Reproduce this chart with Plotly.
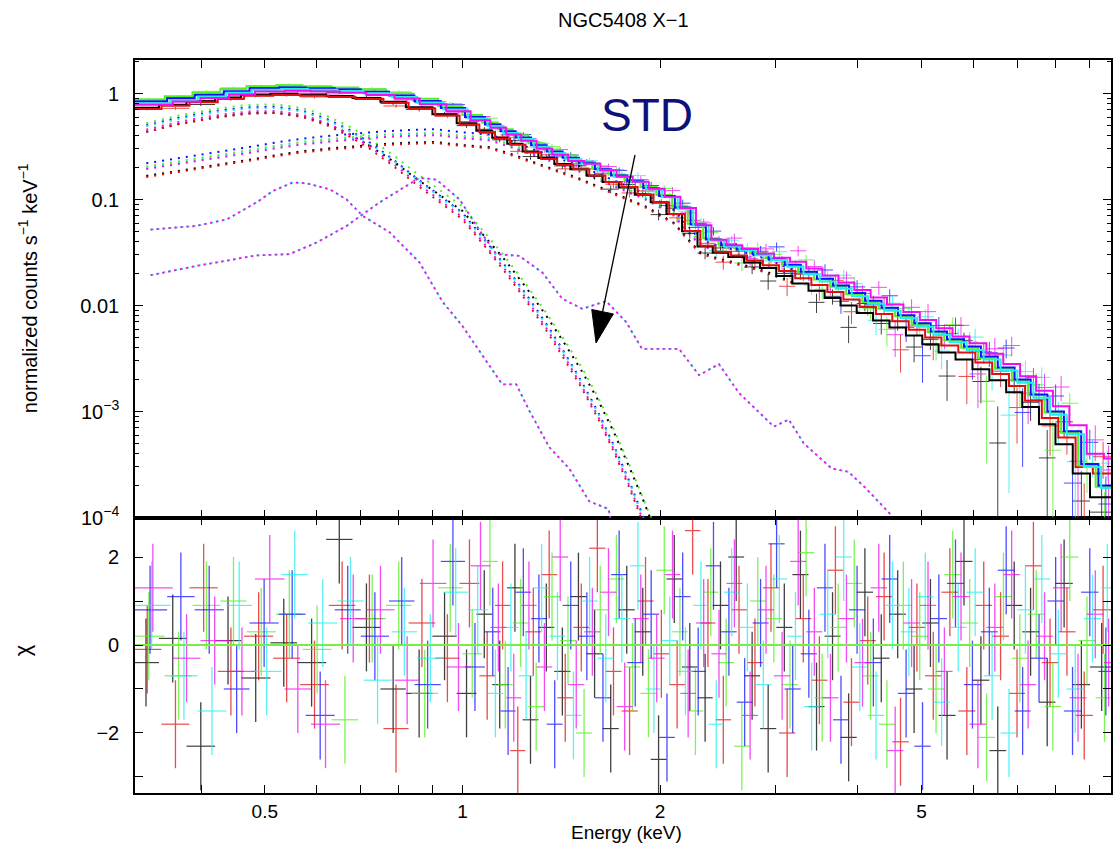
import numpy as np
import plotly.graph_objects as go

# ---------------- data ----------------
SPECTRA = ["black", "red", "green", "blue", "cyan", "magenta"]
COLORS = {"black": "#000000", "red": "#e01010", "green": "#55ee22",
          "blue": "#1010ff", "cyan": "#22eeee", "magenta": "#ee10ee"}

# energy bin edges (keV) of each spectrum
EDGES_BLACK = [0.315, 0.345, 0.38, 0.42, 0.46, 0.51, 0.56, 0.62, 0.68, 0.75, 0.82, 0.90, 0.98,
               1.05, 1.11, 1.17, 1.235, 1.305, 1.38, 1.46, 1.545, 1.635, 1.73, 1.83, 1.935, 2.045,
               2.16, 2.28, 2.405, 2.54, 2.685, 2.84, 3.005, 3.18, 3.365, 3.56, 3.765, 3.985, 4.22, 4.47, 4.735, 5.015,
               5.31, 5.635, 5.98, 6.345, 6.73, 7.12, 7.55, 8.0, 8.5, 9.03, 9.8]
EDGES_RED = [0.315, 0.348, 0.384, 0.424, 0.465, 0.515, 0.566, 0.626, 0.687, 0.758, 0.828, 0.909, 0.990,
             1.061, 1.121, 1.182, 1.247, 1.318, 1.394, 1.475, 1.560, 1.651, 1.747, 1.848, 1.954, 2.065,
             2.182, 2.303, 2.429, 2.565, 2.712, 2.868, 3.035, 3.212, 3.399, 3.596, 3.803, 4.025, 4.262, 4.515, 4.782, 5.065,
             5.363, 5.691, 6.040, 6.408, 6.797, 7.191, 7.626, 8.08, 8.585, 9.12, 9.8]
EDGES_GREEN = [0.315, 0.352, 0.388, 0.428, 0.469, 0.520, 0.571, 0.632, 0.694, 0.765, 0.836, 0.918, 1.000,
               1.071, 1.132, 1.193, 1.260, 1.331, 1.408, 1.489, 1.576, 1.668, 1.765, 1.867, 1.974, 2.086,
               2.203, 2.326, 2.453, 2.591, 2.739, 2.897, 3.065, 3.244, 3.432, 3.631, 3.840, 4.065, 4.304, 4.559, 4.830, 5.115,
               5.416, 5.748, 6.100, 6.472, 6.865, 7.262, 7.701, 8.16, 8.67, 9.21, 9.8]
EDGES_BLUE = [0.315, 0.355, 0.391, 0.433, 0.474, 0.525, 0.577, 0.639, 0.700, 0.773, 0.845, 0.927, 1.009,
              1.082, 1.143, 1.205, 1.272, 1.344, 1.421, 1.504, 1.591, 1.684, 1.782, 1.885, 1.993, 2.106,
              2.225, 2.348, 2.477, 2.616, 2.766, 2.925, 3.095, 3.275, 3.466, 3.667, 3.878, 4.105, 4.347, 4.604, 4.877, 5.165,
              5.469, 5.804, 6.159, 6.535, 6.932, 7.334, 7.777, 8.24, 8.755, 9.30, 9.8]
EDGES_CYAN = [0.315, 0.359, 0.395, 0.437, 0.478, 0.530, 0.582, 0.645, 0.707, 0.780, 0.853, 0.936, 1.019,
              1.092, 1.154, 1.217, 1.284, 1.357, 1.435, 1.518, 1.607, 1.700, 1.799, 1.903, 2.012, 2.127,
              2.246, 2.371, 2.501, 2.642, 2.792, 2.954, 3.125, 3.307, 3.500, 3.702, 3.916, 4.144, 4.389, 4.649, 4.924, 5.216,
              5.522, 5.860, 6.219, 6.599, 7.0, 7.405, 7.852, 8.32, 8.84, 9.39, 9.8]
EDGES_MAGENTA = [0.315, 0.362, 0.399, 0.441, 0.483, 0.536, 0.588, 0.651, 0.714, 0.788, 0.861, 0.945, 1.029,
                 1.103, 1.166, 1.229, 1.297, 1.370, 1.449, 1.533, 1.622, 1.717, 1.817, 1.922, 2.032, 2.147,
                 2.268, 2.394, 2.525, 2.667, 2.819, 2.982, 3.155, 3.339, 3.533, 3.738, 3.953, 4.184, 4.431, 4.693, 4.972, 5.266,
                 5.576, 5.917, 6.279, 6.662, 7.067, 7.476, 7.928, 8.40, 8.925, 9.48, 9.8]

# folded total model per bin (normalized counts s^-1 keV^-1)
MODEL_BLACK = [0.732, 0.784, 0.845, 0.915, 0.976, 0.993, 0.976, 0.949, 0.906, 0.836, 0.74, 0.636, 0.523, 0.444,
               0.383, 0.335, 0.283, 0.246, 0.216,
               0.193, 0.168, 0.146, 0.13, 0.111, 0.094, 0.073, 0.0502, 0.036, 0.0315, 0.0286, 0.0254, 0.0226,
               0.0190, 0.0161, 0.0138, 0.0118, 0.0100, 0.0085, 0.0072, 0.0062, 0.0052, 0.0043, 0.0036, 0.0031,
               0.0025, 0.00197, 0.00152, 0.0011, 0.00076, 0.00049, 0.00026, 0.000155]
MODEL_RED = [0.715, 0.766, 0.825, 0.894, 0.953, 0.97, 0.953, 0.928, 0.885, 0.817, 0.723, 0.621, 0.511, 0.434,
             0.374, 0.328, 0.277, 0.241, 0.211,
             0.193, 0.168, 0.146, 0.131, 0.111, 0.094, 0.073, 0.0505, 0.0366, 0.0322, 0.0296, 0.0266, 0.024,
             0.0211, 0.0181, 0.0156, 0.0134, 0.0114, 0.0097, 0.0083, 0.0071, 0.0059, 0.005, 0.0042, 0.0036,
             0.0029, 0.00226, 0.00174, 0.00126, 0.00087, 0.00057, 0.00030, 0.00026]
MODEL_GREEN = [0.88, 0.94, 1.02, 1.10, 1.17, 1.19, 1.17, 1.14, 1.09, 1.005, 0.89, 0.764, 0.628, 0.534,
               0.46, 0.403, 0.34, 0.296, 0.26,
               0.227, 0.197, 0.172, 0.153, 0.131, 0.110, 0.086, 0.059, 0.043, 0.0379, 0.0348, 0.0312, 0.0281,
               0.0242, 0.0205, 0.0176, 0.015, 0.0128, 0.0108, 0.0093, 0.0079, 0.0066, 0.0056, 0.0047, 0.004,
               0.0032, 0.00254, 0.00195, 0.00142, 0.00098, 0.00063, 0.00031, 0.000195]
MODEL_BLUE = [0.84, 0.90, 0.97, 1.05, 1.12, 1.14, 1.12, 1.09, 1.04, 0.96, 0.85, 0.73,
              0.60, 0.51, 0.44, 0.385, 0.325, 0.283, 0.248, 0.222, 0.193, 0.168, 0.150, 0.128, 0.108,
              0.084, 0.058, 0.042, 0.037, 0.034, 0.0305, 0.0275, 0.0242, 0.0208, 0.0179, 0.0154, 0.0131,
              0.0111, 0.0095, 0.0081, 0.0068,
              0.0057, 0.0048, 0.0041, 0.0033, 0.0026, 0.0020, 0.00145, 0.0010, 0.00065, 0.00032, 0.00020]
MODEL_CYAN = [0.811, 0.869, 0.937, 1.014, 1.082, 1.101, 1.082, 1.053, 1.005, 0.927, 0.821, 0.705, 0.58, 0.493,
              0.425, 0.372, 0.314, 0.273, 0.24,
              0.217, 0.189, 0.164, 0.147, 0.125, 0.1055, 0.082, 0.0567, 0.041, 0.0361, 0.0332, 0.0298, 0.0269,
              0.0232, 0.0197, 0.0168, 0.0144, 0.0122, 0.0104, 0.0089, 0.0076, 0.0063, 0.0053, 0.0045, 0.0038,
              0.0031, 0.00243, 0.00187, 0.00135, 0.00093, 0.00061, 0.00030, 0.00019]
MODEL_MAGENTA = [0.784, 0.84, 0.905, 0.98, 1.045, 1.064, 1.045, 1.017, 0.97, 0.896, 0.793, 0.681, 0.56, 0.476,
                 0.41, 0.359, 0.303, 0.264, 0.231,
                 0.217, 0.189, 0.164, 0.147, 0.126, 0.106, 0.083, 0.0573, 0.0417, 0.037, 0.0342, 0.031, 0.0282,
                 0.0259, 0.0223, 0.0192, 0.0165, 0.014, 0.0119, 0.0102, 0.0087, 0.0073, 0.0061, 0.0051, 0.0044,
                 0.0035, 0.0028, 0.00215, 0.00157, 0.00112, 0.00074, 0.00040, 0.00036]

# residuals (chi) per bin
RESID_BLACK = [-0.4, 0.15, -2.3, 0.1, -0.75, 0.05, -0.4, 2.4, 0.4, -1.0, -1.1, 0.2,
               -1.1, 0.7, -0.9, 1.3, -1.7, 0.4, -0.6, 1.1, -0.2, -1.9, 0.8, 0.3, -2.6,
               1.5, -0.5, -1.2, 0.9, 2.0, -0.7, -1.9, 0.4, 1.6, -1.4, 0.2, -2.1, 1.2, -0.3, 0.7, -1.0,
               0.5, -1.6, 1.9, -0.8, -2.4, 0.9, 0.3, -1.3, 1.4, -0.9, -0.5]
RESID_RED = [-0.1, -1.8, 1.3, -0.6, 0.2, -0.3, -0.9, 0.9, 0.6, -1.9, 0.5, -0.3,
             1.4, -0.7, 0.9, -2.4, 0.3, 1.6, -1.2, 0.4, 2.2, -0.6, -1.5, 1.0, -0.2,
             -0.9, 2.6, 0.5, -1.7, 0.8, -0.4, 1.3, -2.0, 0.6, -0.8, 1.7, -1.3, 0.1, 1.1, -2.2, 0.4,
             -0.7, 1.2, -1.5, 0.9, 0.2, -1.1, 1.8, -0.4, 0.3, -1.6, 0.8]
RESID_GREEN = [0.2, -0.7, 0.9, 1.0, 0.3, 0.7, -0.1, -1.7, 0.6, 0.9, -1.1, 1.3,
               -0.2, 1.9, -0.9, 0.5, -1.4, 1.1, 0.1, -2.0, 0.8, 1.5, -0.5, -1.1, 1.7,
               0.3, -1.5, 1.2, -0.4, -2.3, 1.0, 0.6, -0.9, 2.1, -1.2, 0.4, 1.4, -0.7, -1.8, 0.9, 0.2,
               -1.0, 1.6, 0.5, -2.1, 1.1, -0.3, 0.7, -1.4, 2.0, 0.1, -1.2]
RESID_BLUE = [0.8, 1.1, 0.8, -1.0, 0.5, 0.7, -1.6, 0.8, 0.2, 1.0, -0.9, 1.9,
              -0.5, 0.3, -1.5, 1.2, 0.6, -1.8, 0.9, 0.2, -1.2, 1.6, -0.4, 0.7, -2.1,
              1.1, -0.6, 1.8, 0.3, -1.3, 0.5, 2.3, -1.0, -0.2, 1.3, -1.7, 0.8, -0.4, 1.5, -1.1, -2.3,
              0.6, 1.4, -0.9, 0.3, 1.7, -1.5, -0.3, 1.0, -1.5, 1.2, -0.6]
RESID_CYAN = [0.9, -0.7, -1.5, 0.9, -0.6, 1.6, 0.5, 1.0, -0.8, 0.3, -0.3, 1.2,
              0.8, -1.1, 0.4, -0.7, 1.3, 0.2, -1.6, 1.0, -0.3, 0.6, 1.8, -1.0, 0.1,
              -0.6, 0.9, -1.8, 1.2, 0.4, -0.9, 1.5, 0.2, -1.4, 0.7, 2.0, -0.5, -1.6, 0.9, 0.3, 1.1,
              -1.3, 0.4, 1.2, -0.7, -2.0, 0.8, 1.5, -0.2, -1.0, 0.6, 1.3]
RESID_MAGENTA = [1.3, -0.3, 0.1, -0.6, 1.5, -1.0, -1.8, 0.6, 0.8, -0.8, 1.4, -0.5,
                 1.8, 0.4, -1.2, 0.9, -0.5, 2.0, -0.9, 0.3, 1.2, -1.4, 0.6, -0.3, 1.6,
                 -1.1, 0.5, -0.2, 1.4, -1.6, 0.8, -0.7, 1.9, 0.3, -1.2, 0.6, -0.4, 1.3, -2.4, 0.5, 0.9,
                 -0.6, 1.1, -1.8, 0.4, 1.6, -0.9, 0.2, 1.3, -1.2, 0.7, -0.4]

# relative 1-sigma error of each bin (same grouping for all spectra)
REL_ERR = [0.03, 0.03, 0.03, 0.03, 0.03, 0.03, 0.03, 0.03, 0.035, 0.035, 0.04, 0.04,
           0.045, 0.05, 0.05, 0.055, 0.06, 0.06, 0.065, 0.07, 0.07, 0.075, 0.08, 0.085, 0.09,
           0.09, 0.10, 0.11, 0.12, 0.12, 0.13, 0.13, 0.14, 0.15, 0.16, 0.17, 0.18, 0.19, 0.20, 0.21, 0.22,
           0.23, 0.25, 0.27, 0.29, 0.31, 0.34, 0.37, 0.40, 0.45, 0.50, 0.55]

# model components (dotted)
DISK_E = [0.33, 0.37, 0.42, 0.47, 0.52, 0.57, 0.62, 0.67, 0.72, 0.78, 0.85, 0.92, 1.0, 1.08, 1.16, 1.25,
          1.34, 1.43, 1.52, 1.61, 1.70, 1.79, 1.88, 1.95]
DISK_BLACK = [0.435, 0.515, 0.595, 0.65, 0.66, 0.61, 0.52, 0.42, 0.325, 0.235, 0.158, 0.112, 0.078, 0.045,
              0.027, 0.0148, 0.0081, 0.0044, 0.0024, 0.00127, 0.00064, 0.00031, 0.000152, 0.000085]
DISK_RED = [0.435, 0.515, 0.59, 0.645, 0.655, 0.60, 0.505, 0.40, 0.305, 0.213, 0.139, 0.096, 0.065, 0.0366,
            0.0209, 0.0111, 0.0059, 0.0031, 0.00165, 0.00085, 0.00042, 0.0002, 0.000096, 0.000052]
DISK_GREEN = [0.525, 0.62, 0.715, 0.78, 0.79, 0.73, 0.62, 0.495, 0.38, 0.27, 0.178, 0.124, 0.086, 0.049,
              0.029, 0.0158, 0.0086, 0.0047, 0.0026, 0.00135, 0.00068, 0.00033, 0.00016, 0.00009]
DISK_BLUE = [0.50, 0.59, 0.68, 0.74, 0.75, 0.69, 0.58, 0.46, 0.35, 0.245, 0.16, 0.11, 0.075, 0.042,
             0.024, 0.0128, 0.0068, 0.0036, 0.0019, 0.00098, 0.00048, 0.00023, 0.00011, 0.00006]
DISK_CYAN = [0.49, 0.575, 0.665, 0.72, 0.73, 0.675, 0.565, 0.45, 0.34, 0.24, 0.156, 0.107, 0.073, 0.041,
             0.0235, 0.0125, 0.0066, 0.0035, 0.00186, 0.00096, 0.00047, 0.000225, 0.000108, 0.000059]
DISK_MAGENTA = [0.455, 0.54, 0.62, 0.675, 0.685, 0.63, 0.53, 0.42, 0.32, 0.223, 0.146, 0.1, 0.068, 0.038,
                0.022, 0.0117, 0.0062, 0.0033, 0.00173, 0.00089, 0.00044, 0.00021, 0.0001, 0.000055]

PL_E = [0.33, 0.37, 0.42, 0.47, 0.52, 0.57, 0.63, 0.69, 0.76, 0.83, 0.91, 1.0, 1.1, 1.2, 1.3, 1.4, 1.5,
        1.6, 1.7, 1.8, 1.9, 2.0, 2.1, 2.2, 2.3, 2.45, 2.65, 2.9, 3.2]
PL_BLACK = [0.167, 0.186, 0.209, 0.235, 0.262, 0.285, 0.304, 0.319, 0.334, 0.343, 0.349, 0.326, 0.311, 0.262,
            0.22, 0.186, 0.159, 0.135, 0.115, 0.1, 0.086, 0.072, 0.06, 0.043, 0.032, 0.0277, 0.0247, 0.0209, 0.0163]
PL_RED = [0.163, 0.182, 0.204, 0.23, 0.256, 0.278, 0.296, 0.311, 0.326, 0.335, 0.341, 0.319, 0.304, 0.256,
          0.215, 0.182, 0.156, 0.132, 0.113, 0.098, 0.084, 0.07, 0.059, 0.042, 0.031, 0.027, 0.024, 0.0204, 0.016]
PL_GREEN = [0.205, 0.229, 0.257, 0.289, 0.322, 0.35, 0.373, 0.392, 0.41, 0.42, 0.425, 0.40, 0.383, 0.322,
            0.27, 0.229, 0.196, 0.166, 0.142, 0.123, 0.105, 0.089, 0.074, 0.053, 0.039, 0.034, 0.0303, 0.0257, 0.020]
PL_BLUE = [0.22, 0.245, 0.275, 0.31, 0.345, 0.375, 0.40, 0.42, 0.44, 0.452, 0.46, 0.43, 0.41, 0.345,
           0.29, 0.245, 0.21, 0.178, 0.152, 0.132, 0.113, 0.095, 0.079, 0.057, 0.042, 0.0365, 0.0325, 0.0275, 0.0215]
PL_CYAN = [0.198, 0.221, 0.248, 0.28, 0.311, 0.338, 0.361, 0.379, 0.397, 0.408, 0.415, 0.388, 0.37, 0.311,
           0.262, 0.221, 0.189, 0.161, 0.137, 0.119, 0.102, 0.086, 0.071, 0.051, 0.038, 0.033, 0.0293, 0.0248, 0.0194]
PL_MAGENTA = [0.194, 0.216, 0.242, 0.273, 0.304, 0.33, 0.352, 0.37, 0.388, 0.398, 0.405, 0.379, 0.361, 0.304,
              0.256, 0.216, 0.185, 0.157, 0.134, 0.116, 0.1, 0.084, 0.07, 0.05, 0.037, 0.0322, 0.0286, 0.0242, 0.019]

LINE1_E = [0.335, 0.393, 0.438, 0.486, 0.514, 0.552, 0.579, 0.628, 0.666, 0.705, 0.775, 0.86, 0.932, 1.0,
           1.072, 1.15, 1.208, 1.264, 1.356, 1.454, 1.56, 1.67, 1.69]
LINE1_V = [0.052, 0.0563, 0.065, 0.094, 0.12, 0.145, 0.142, 0.125, 0.10, 0.07, 0.049, 0.0255, 0.0109, 0.0064,
           0.0034, 0.0018, 0.0018, 0.00102, 0.00046, 0.00029, 0.000142, 0.00012, 0.00008]
PLASMA_E = [0.335, 0.393, 0.486, 0.545, 0.60, 0.666, 0.748, 0.822, 0.86, 0.913, 0.99, 1.06, 1.126, 1.22,
            1.323, 1.419, 1.522, 1.655, 1.775, 1.877, 2.137, 2.293, 2.458, 2.636, 2.857, 2.98, 3.14, 3.31,
            3.65, 3.87, 4.11, 4.5]
PLASMA_V = [0.0193, 0.0236, 0.0297, 0.0305, 0.0393, 0.0563, 0.094, 0.133, 0.16, 0.154, 0.10, 0.052, 0.0305,
            0.0294, 0.0205, 0.0116, 0.0093, 0.011, 0.007, 0.0039, 0.0039, 0.0022, 0.0028, 0.0015, 0.00092,
            0.00072, 0.00084, 0.0005, 0.00029, 0.00027, 0.00019, 0.000105]

# tick labels
X_TICKVALS = [0.4, 0.5, 0.6, 0.7, 0.8, 0.9, 1, 2, 3, 4, 5, 6, 7, 8, 9]
X_TICKTEXT = ["", "0.5", "", "", "", "", "1", "2", "", "", "5", "", "", "", ""]
Y_TICKVALS = [1e-4, 1e-3, 0.01, 0.1, 1]
Y_TICKTEXT = ["10<sup>−4</sup>", "10<sup>−3</sup>", "0.01", "0.1", "1"]
Y_MINOR = [m * 10.0 ** d for d in range(-4, 1) for m in range(2, 10)]
R_TICKVALS = [-3, -2, -1, 0, 1, 2]
R_TICKTEXT = ["", "−2", "", "0", "", "2"]

EDGES = dict(black=EDGES_BLACK, red=EDGES_RED, green=EDGES_GREEN, blue=EDGES_BLUE, cyan=EDGES_CYAN, magenta=EDGES_MAGENTA)
MODEL = dict(black=MODEL_BLACK, red=MODEL_RED, green=MODEL_GREEN, blue=MODEL_BLUE, cyan=MODEL_CYAN, magenta=MODEL_MAGENTA)
RESID = dict(black=RESID_BLACK, red=RESID_RED, green=RESID_GREEN, blue=RESID_BLUE, cyan=RESID_CYAN, magenta=RESID_MAGENTA)
DISK = dict(black=DISK_BLACK, red=DISK_RED, green=DISK_GREEN, blue=DISK_BLUE, cyan=DISK_CYAN, magenta=DISK_MAGENTA)
PL = dict(black=PL_BLACK, red=PL_RED, green=PL_GREEN, blue=PL_BLUE, cyan=PL_CYAN, magenta=PL_MAGENTA)

# ---------------- figure ----------------
W, H = 1114, 846
ML, MR, MT, MB = 135, 1, 60, 53
SPLIT = (793 - 517.5) / (H - MT - MB)
FONT = "Liberation Sans, Arial, Helvetica, sans-serif"
DOT = "2px,6px"

fig = go.Figure()
s_err = np.array(REL_ERR)

# dotted components first (behind)
for name in SPECTRA:
    col = COLORS[name]
    fig.add_trace(go.Scatter(x=DISK_E, y=DISK[name], mode="lines", xaxis="x2", yaxis="y2",
                             line=dict(color=col, width=2, dash=DOT), hoverinfo="skip"))
    fig.add_trace(go.Scatter(x=PL_E, y=PL[name], mode="lines", xaxis="x2", yaxis="y2",
                             line=dict(color=col, width=2, dash=DOT), hoverinfo="skip"))
for col, dash in [("#44ccee", "3px,3px"), (COLORS["magenta"], "2px,4px")]:
    for ex, vy in [(LINE1_E, LINE1_V), (PLASMA_E, PLASMA_V)]:
        fig.add_trace(go.Scatter(x=ex, y=vy, mode="lines", xaxis="x2", yaxis="y2",
                                 line=dict(color=col, width=1.8, dash=dash), hoverinfo="skip"))

# data and models
for name in SPECTRA:
    col = COLORS[name]
    e = np.array(EDGES[name])
    m = np.array(MODEL[name])
    r = np.array(RESID[name])
    c = np.sqrt(e[:-1] * e[1:])
    xp, xm = e[1:] - c, c - e[:-1]
    data = m * (1 + r * s_err)
    sig = m * s_err
    sig_lo = np.minimum(sig, 0.97 * data)
    fig.add_trace(go.Scatter(
        x=c, y=data, mode="markers", xaxis="x2", yaxis="y2", opacity=0.75,
        marker=dict(size=1, color=col),
        error_x=dict(type="data", symmetric=False, array=xp, arrayminus=xm, color=col, thickness=1, width=0),
        error_y=dict(type="data", symmetric=False, array=sig, arrayminus=sig_lo, color=col, thickness=1, width=0),
        hoverinfo="skip"))
    fig.add_trace(go.Scatter(
        x=c, y=r, mode="markers", xaxis="x", yaxis="y", opacity=0.75,
        marker=dict(size=1, color=col),
        error_x=dict(type="data", symmetric=False, array=xp, arrayminus=xm, color=col, thickness=1.2, width=0),
        error_y=dict(type="constant", value=1, color=col, thickness=1.3, width=0),
        hoverinfo="skip"))
for name in SPECTRA:
    col = COLORS[name]
    e = list(EDGES[name])
    m = list(MODEL[name])
    fig.add_trace(go.Scatter(x=e, y=m + [m[-1]], mode="lines", line_shape="hv", xaxis="x2", yaxis="y2",
                             line=dict(color=col, width=2), hoverinfo="skip"))

# zero line of residuals
fig.add_trace(go.Scatter(x=[EDGES_BLACK[0], EDGES_BLACK[-1]], y=[0, 0], mode="lines", xaxis="x", yaxis="y",
                         line=dict(color="#77ee44", width=2), hoverinfo="skip"))

xr = [np.log10(0.3172), np.log10(9.72)]
ax_common = dict(showgrid=False, zeroline=False, showline=True, linecolor="black", linewidth=1.6,
                 mirror="all", ticks="inside", ticklen=8, tickwidth=1.4, tickcolor="black")

fig.update_layout(
    width=W, height=H, margin=dict(l=ML, r=MR, t=MT, b=MB),
    paper_bgcolor="white", plot_bgcolor="white", showlegend=False,
    font=dict(family=FONT, size=20, color="black"),
    xaxis=dict(type="log", range=xr, tickmode="array", tickvals=X_TICKVALS, ticktext=X_TICKTEXT,
               anchor="y", ticklabelstandoff=0, tickfont=dict(family=FONT, size=19, color="black"),
               **ax_common),
    xaxis2=dict(type="log", range=xr, tickmode="array", tickvals=X_TICKVALS, ticktext=X_TICKTEXT,
                anchor="y2", matches="x", showticklabels=False, **ax_common),
    yaxis=dict(range=[-3.364, 2.898], domain=[0, SPLIT], tickmode="array", tickvals=R_TICKVALS,
               ticktext=R_TICKTEXT, anchor="x", ticklabelstandoff=10,
               tickfont=dict(family=FONT, size=20, color="black"), **ax_common),
    yaxis2=dict(type="log", range=[-4, 0.316], domain=[SPLIT, 1], tickmode="array", tickvals=Y_TICKVALS,
                ticktext=Y_TICKTEXT, anchor="x2", ticklabelstandoff=10,
                tickfont=dict(family=FONT, size=20, color="black"),
                minor=dict(tickmode="array", tickvals=Y_MINOR, ticks="inside", ticklen=4, tickwidth=1.2,
                           tickcolor="black"),
                **ax_common),
)

PW, PH = W - ML - MR, H - MT - MB


def px(x):
    return (x - ML) / PW


def py(y):
    return (H - MB - y) / PH


annots = [
    dict(text="NGC5408 X−1", x=px(625), y=py(20), font=dict(size=20)),
    dict(text="normalized counts s<sup>−1</sup> keV<sup>−1</sup>", x=px(27), y=py(288), textangle=-90,
         font=dict(size=20)),
    dict(text="χ", x=px(22), y=py(650), textangle=-90, font=dict(size=22)),
    dict(text="Energy (keV)", x=px(628), y=py(833), font=dict(size=19)),
    dict(text="STD", x=px(648), y=py(115), font=dict(size=46, color="#10107a")),
]
for a in annots:
    a.update(xref="paper", yref="paper", showarrow=False, xanchor="center", yanchor="middle")
    a["font"].setdefault("color", "black")
    a["font"]["family"] = FONT
fig.update_layout(annotations=annots)

fig.update_layout(shapes=[
    dict(type="line", xref="paper", yref="paper", x0=px(636), y0=py(155), x1=px(603.5), y1=py(312),
         line=dict(color="black", width=1.3)),
    dict(type="path", xref="paper", yref="paper",
         path=f"M {px(592.7)} {py(309.5)} L {px(614.3)} {py(313.9)} L {px(597)} {py(343)} Z",
         fillcolor="black", line=dict(color="black", width=1)),
])

fig.write_html("out.html", config={"displayModeBar": False},
               post_script="document.body.style.margin='0px';")
